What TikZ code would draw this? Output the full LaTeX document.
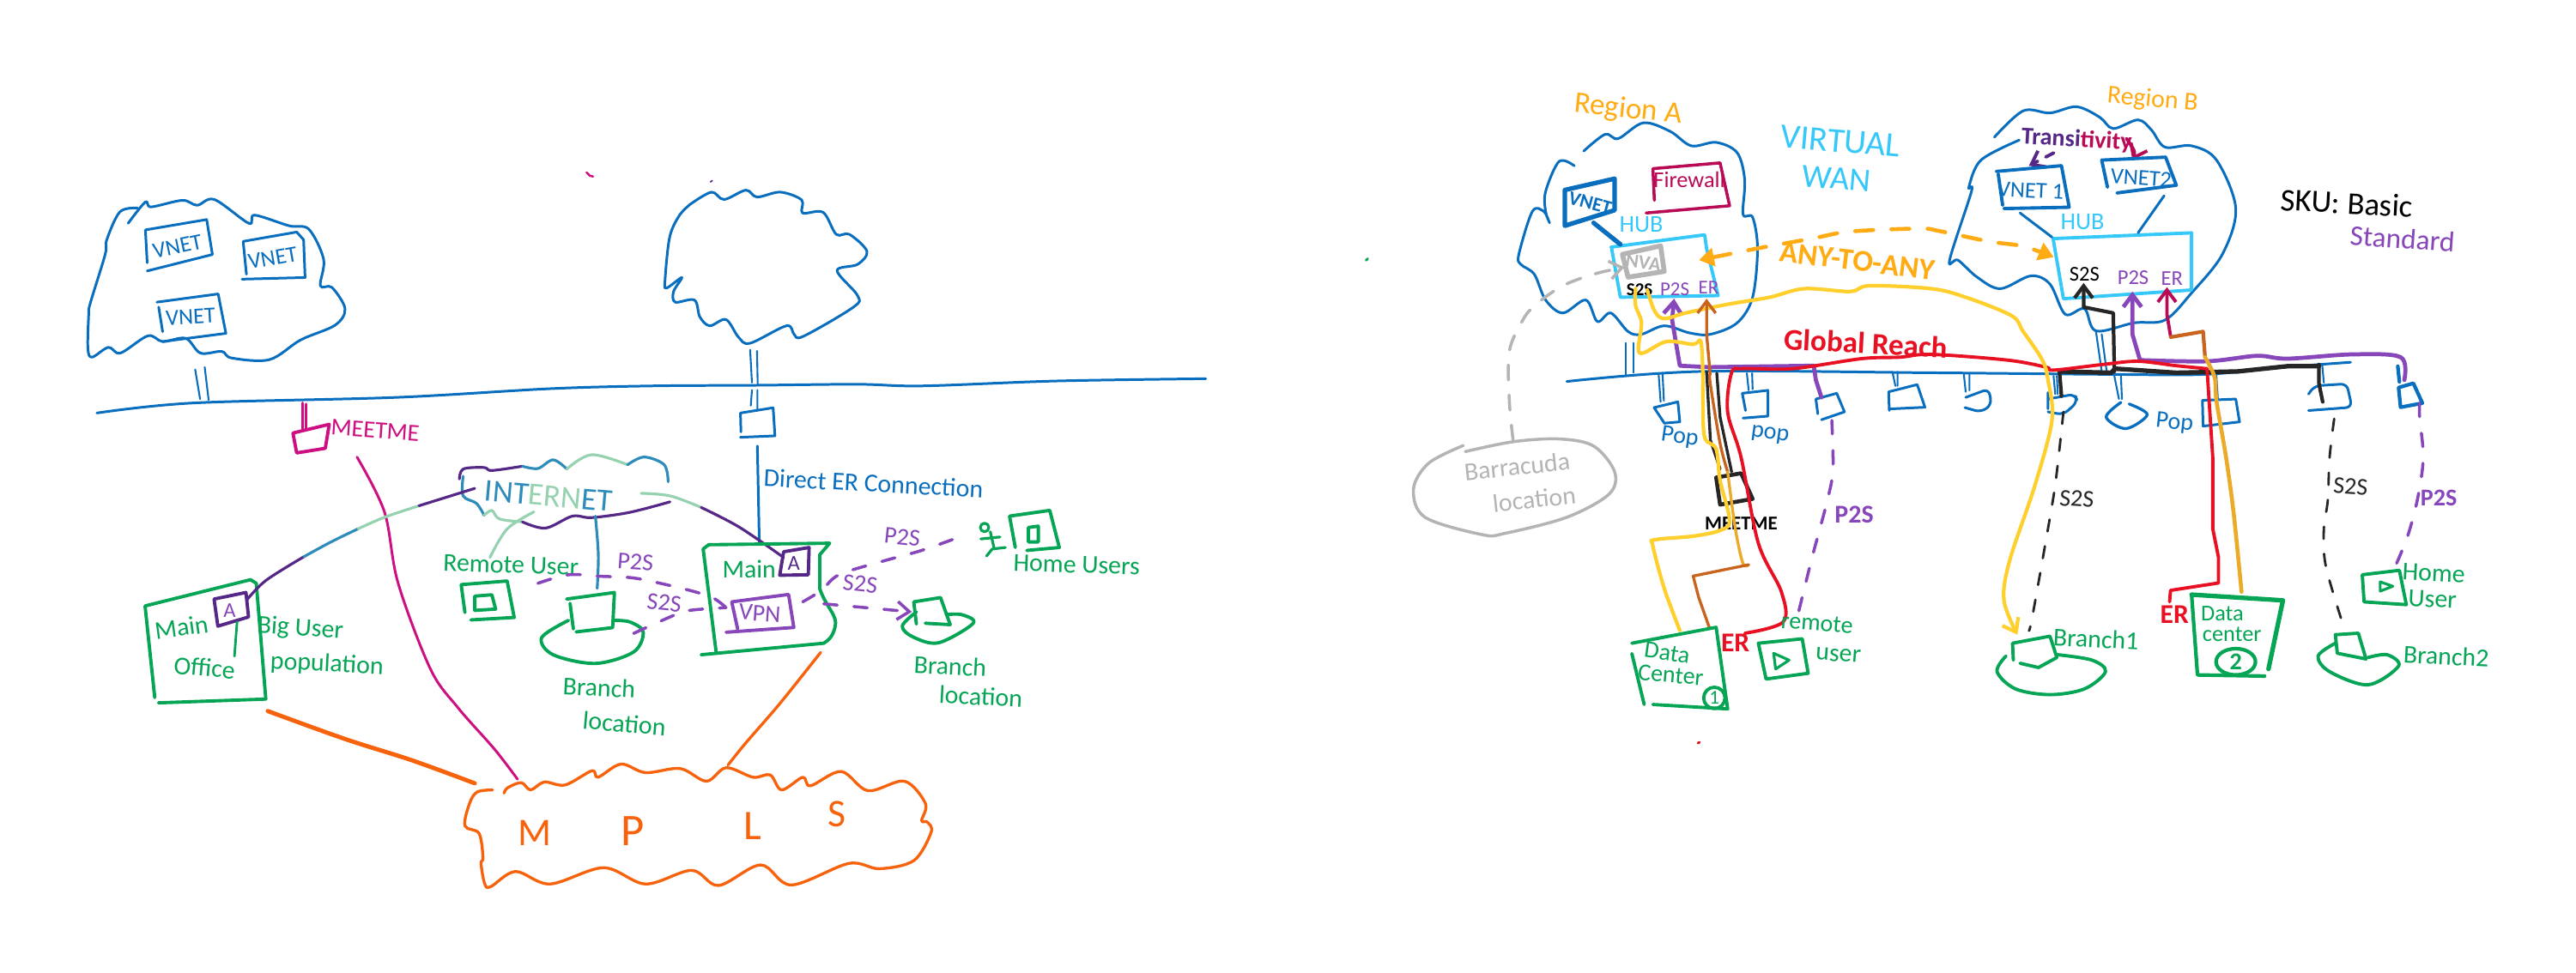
\documentclass[tikz,border=0pt]{standalone}
\usepackage{fontspec}
\setmainfont{Carlito}
\usepackage{xcolor}
\usetikzlibrary{positioning,arrows.meta}
\definecolor{penblue}{RGB}{10,110,190}
\definecolor{pengreen}{RGB}{5,165,85}
\definecolor{penmagenta}{RGB}{205,15,130}
\definecolor{penorange}{RGB}{247,99,12}
\definecolor{penpurple}{RGB}{135,70,185}
\definecolor{pendark}{RGB}{85,40,135}
\definecolor{pencyan}{RGB}{55,200,250}
\definecolor{penamber}{RGB}{255,171,20}
\definecolor{penyellow}{RGB}{255,208,45}
\definecolor{penred}{RGB}{232,17,35}
\definecolor{pengray}{RGB}{180,180,180}
\definecolor{pencrimson}{RGB}{185,10,85}
\definecolor{penbrown}{RGB}{200,100,30}
\definecolor{pengold}{RGB}{235,170,40}
\definecolor{pensea}{RGB}{150,210,175}
\definecolor{penteal}{RGB}{45,140,185}
\tikzset{
  bluepen/.style={draw=penblue, line width=0.85pt},
  stem/.style={draw=penblue, line width=0.6pt},
  greenpen/.style={draw=pengreen, line width=1.1pt},
  inetpen/.style={draw=#1, line width=0.9pt},
  orangepen/.style={draw=penorange, line width=0.95pt},
  magentapen/.style={draw=penmagenta, line width=0.85pt},
  purplepen/.style={draw=penpurple, line width=1.35pt},
  purpledash/.style={draw=penpurple, line width=1pt, dash pattern=on 4.5pt off 5.5pt},
  blackpen/.style={draw=black!85, line width=1.2pt},
  blackdash/.style={draw=black!85, line width=0.8pt, dash pattern=on 4pt off 5pt},
  redpen/.style={draw=penred, line width=1.1pt},
  yellowpen/.style={draw=penyellow, line width=1.2pt},
  brownpen/.style={draw=penbrown, line width=0.95pt},
  label/.style={inner sep=0pt, font=\fontsize{#1}{#1}\selectfont, align=center},
  label/.default=7.5,
  heavy/.style={font=\fontsize{#1}{#1}\bfseries, inner sep=0pt, align=center},
  tip/.style={-{Straight Barb[length=4pt,width=6pt]}},
}
\newcommand{\pen}[2]{\draw[#1] plot[smooth,tension=0.55] coordinates {#2};}
\begin{document}
\begin{tikzpicture}[x=0.01914cm, y=-0.01914cm, line cap=round, line join=round]
\useasboundingbox (0,0) rectangle (1568,592.5);

% left drawing: clouds and backbone
\pen{bluepen}{(78,136) (88.5,123) (92,126) (111,122) (120,125) (130.5,121.5) (151.5,136) (155,131) (176,137.5) (188,139.6) (197,158) (195,174) (202,175) (210,188) (204,198) (183,207) (164,219) (141,218) (135,214) (122,215) (113,206) (99,208) (90,204.5) (73.3,215) (66,211.5) (56,217.5) (53.5,212) (54,191.4) (55,184.5) (64,155) (65,146) (73,129) (83.8,126.7)}
\draw[bluepen] (88.5,140) -- (125.8,133.7) -- (129.3,155) -- (89.6,165) (88.5,140) -- (89.6,160);
\draw[bluepen] (148,147) -- (180.6,141.3) -- (184.8,146) -- (185.7,169) -- (147.3,170) (148,147) -- (150,167);
\draw[bluepen] (95.5,184) -- (132.8,179) -- (137.5,203) -- (99,208) (96.6,187) -- (99,202);
\node[label, text=penblue, rotate=12] (vnetone) at (108,150) {VNET};
\node[label, text=penblue, rotate=10] (vnettwo) at (166,157) {VNET};
\node[label, text=penblue, rotate=3] (vnetthree) at (116,193) {VNET};
\draw[stem] (118.8,225) -- (121.8,243) (124.6,223.6) -- (127,243.6);
\pen{bluepen}{(59,251.5) (117.6,245.4) (241,242) (334.6,236.7) (397,235) (461,234.6) (522,234) (561.5,235) (643,232) (734,230.6)}
\pen{bluepen}{(420,124.5) (433,117) (440.7,121.5) (454,115.8) (460.8,120) (475,117) (488,121.8) (488.5,129.7) (501,129.3) (509,142.7) (517,142.7) (527.7,153) (522,161) (509.5,164.8) (522,180) (519.5,187) (489,204.8) (483.4,203.6) (478.7,198.4) (456.6,209) (449.6,205.4) (441.9,194.6) (432,198.4) (426,193) (422.7,182.7) (411,184) (410,177.5) (415,169) (405.7,175.4) (404.8,170.6) (407.6,144.5) (413.4,131.4) (420,124.5)}
\draw[stem] (456.6,213) -- (457.7,233) (460.8,213.7) -- (461.2,234) (457.7,237.5) -- (457,247) (461,237.5) -- (461,250);
\draw[bluepen] (450.7,251.5) -- (470.6,248.3) -- (471.7,265.4) -- (450.7,266.3) (450.7,251.5) -- (451,263);
\coordinate (erdrop) at (461,271.6);
\coordinate (mainhead) at (462.2,330.8);
\draw[bluepen] (erdrop) -- (mainhead);
\node[label=8.5, text=penblue, rotate=-3] (directer) at (531.7,294.3) {Direct ER Connection};

% meet me box
\draw[magentapen] (184,245.4) -- (184,261) (186.4,246) -- (186.4,262);
\draw[magentapen, line width=1.1pt] (178.3,263.7) -- (200.4,258.4) -- (198,273) -- (180.6,275.8) -- cycle;
\node[label=8, text=penmagenta, rotate=-4] (meetleft) at (228.4,262) {MEETME};
\pen{magentapen}{(217.3,278.3) (234,311.7) (242.3,355) (262,407.4) (278.8,431) (301,456.2) (315,474.5)}

% internet cloud
\pen{inetpen=pendark}{(279.6,291.7) (282,285.6) (294.7,284.7) (299.4,286.5) (318,283.9)}
\pen{inetpen=penteal}{(318,283.9) (327.4,285.3) (336.7,280) (345,285.6)}
\pen{inetpen=pensea}{(345,285.6) (360,276.9) (382,283)}
\pen{inetpen=penteal}{(382,283) (392,278.3) (404.3,283) (406.7,293.4)}
\pen{inetpen=penteal}{(281.9,290) (281.9,302) (290,306.5) (294.7,313.8)}
\pen{inetpen=pensea}{(294.7,313.8) (299.4,310.8) (304,316) (318,317.8)}
\pen{inetpen=pendark}{(318,317.8) (332,321.6) (348.4,314.3) (360,315.2) (383.3,312) (407.8,305.6)}
\node[label=10.5, rotate=-5] (internet) at (334,302) {\textcolor{penteal}{INT}\textcolor{pensea}{ERN}\textcolor{penteal}{ET}};

% main office and links into internet
\draw[greenpen] (88.3,369) -- (152.5,353) -- (156,355.2) -- (161.8,425.7) -- (96.5,428) (88.3,369) -- (94.2,424.8);
\draw[draw=pendark, line width=1.1pt] (130.3,364.8) -- (149.7,360.8) -- (151.3,375.7) -- (132.6,381.3) -- cycle;
\node[label=7, text=penpurple] (aoffice) at (139.7,371.7) {A};
\coordinate (officeA) at (150,365.6);
\coordinate (inetwest) at (289,297.4);
\pen{inetpen=pendark}{(officeA) (161.8,353.5) (185,339)}
\pen{inetpen=penteal}{(185,339) (201.5,330) (218,322)}
\pen{inetpen=pensea}{(218,322) (234,315) (255,308)}
\pen{inetpen=pendark}{(255,308) (inetwest)}
\node[label=8.5, text=pengreen, rotate=8] (mainone) at (110.5,382) {Main};
\node[label=8.5, text=pengreen, rotate=-5] (officelabel) at (124.5,406.5) {Office};
\draw[greenpen, line width=.8pt] (144.3,378.7) -- (142.7,399.6);
\node[label=8.5, text=pengreen, rotate=-4] (biguser) at (182.8,383) {Big User};
\node[label=8.5, text=pengreen, rotate=-3] (popul) at (199,404.8) {population};
\coordinate (inetsouth) at (362.4,314.3);
\coordinate (branchtop) at (363.5,358.3);
\pen{inetpen=penteal}{(inetsouth) (364.2,337.8) (branchtop)}
\coordinate (inetuser) at (325,311.7);
\coordinate (usertop) at (298.2,339.5);
\pen{inetpen=pensea}{(inetuser) (308.7,322.1) (usertop)}
\coordinate (inetright) at (390.3,300.4);
\coordinate (mainA) at (477,339.5);
\pen{inetpen=pensea}{(inetright) (408,302) (426.8,309)}
\pen{inetpen=pendark}{(426.8,309) (450,321) (mainA)}

% remote user and branch
\node[label=8.5, text=pengreen, rotate=-2] (remoteuser) at (311,344) {Remote User};
\draw[greenpen] (280.7,356) -- (308.7,353.8) -- (313,376) -- (286.6,377.5) (280.7,356) -- (283,373);
\draw[greenpen] (289,363) -- (299.4,362.2) -- (301.7,370.9) -- (289,371.7) -- cycle;
\draw[greenpen] (344.9,364.8) -- (374,360.8) -- (372.9,382.2) -- (350.7,384.8) (347,367.4) -- (349,383);
\pen{greenpen}{(346,377.8) (329.7,388.3) (336.7,398.7) (362.4,404) (385.7,397) (391.5,384.8) (383.3,378.7) (372.9,377.8)}
\node[label=8.5, text=pengreen, rotate=-3] (branchone) at (364.7,418.7) {Branch};
\node[label=8.5, text=pengreen, rotate=-5] (locone) at (380,440.6) {location};

% main box with vpn
\draw[greenpen] (428,334.3) -- (431.4,331.7) -- (505,330.8) -- (499,337.8) -- (499,358.6) .. controls (503,370) and (510,375) .. (508.4,381.3) .. controls (507,388) and (504,390) .. (501.4,391.7) -- (426.8,398.7);
\draw[greenpen] (428,334.3) -- (436,397.8);
\draw[draw=pendark, line width=1.1pt] (477,336) -- (492.5,333.4) -- (492,350) -- (474.6,350.3) -- cycle;
\node[label=7, text=pendark] (amain) at (483.2,343) {A};
\node[label=8.5, text=pengreen] (maintwo) at (456,346.5) {Main};
\draw[draw=penpurple, line width=1.1pt] (445.4,366.5) -- (480,362) -- (483.2,382.1) -- (442,385) (445.4,366.5) -- (449,383);
\node[label=8, text=penpurple, rotate=-4] (vpn) at (462.5,373.4) {VPN};
\coordinate (vpnwest) at (442,370);
\pen{purpledash}{(327.4,355.2) (346,350) (364.7,350.9) (383.3,351.7) (396.5,354) (419.8,359.5) (433.8,364) (vpnwest)}
\pen{purpledash}{(385.7,385.7) (409,375.2) (419.8,371.7) (vpnwest)}
\node[label=8, text=penpurple, rotate=-4] (ptsone) at (386.8,342) {P2S};
\node[label=8, text=penpurple, rotate=-6] (stsone) at (404.3,367) {S2S};
\pen{purpledash}{(488.6,366.5) (500,359.5) (510.7,350) (536.4,342) (560.9,335.2) (585.4,326.5)}
\node[label=8, text=penpurple, rotate=-6] (ststwo) at (523.6,355.5) {S2S};
\node[label=8, text=penpurple, rotate=-6] (ptstwo) at (549.2,327) {P2S};
\coordinate (smallbranch) at (555,372.6);
\draw[purpledash, tip] (501.4,367.7) -- (smallbranch);

% home users
\draw[greenpen, line width=.9pt] (599.3,321.2) circle (2.6);
\draw[greenpen, line width=.9pt] (602.8,323.8) -- (605.2,334.3) (597,328.2) -- (608.7,327) (604,334.3) -- (612,333.4) (604,334.3) -- (600.5,338.6);
\draw[greenpen] (614.5,314.3) -- (639,310.8) -- (644.8,333.4) -- (625,335.2) (614.5,314.3) -- (618,333.4);
\draw[greenpen] (626,321.2) -- (632,320.4) -- (632,330) -- (626,330) -- cycle;
\node[label=8.5, text=pengreen, rotate=-2] (homeusers) at (655.3,343.9) {Home Users};
\draw[greenpen] (556.2,366.5) -- (572.5,363.9) -- (578.4,380.4) -- (563.2,379.5) (556.2,366.5) -- (557.8,380);
\pen{greenpen}{(557.8,372.6) (549.2,381.3) (556,388) (571.4,391.4) (592.4,379.5) (585.4,374.3) (576,374.3)}
\node[label=8.5, text=pengreen, rotate=-3] (branchtwo) at (578.4,405.6) {Branch};
\node[label=8.5, text=pengreen, rotate=-3] (loctwo) at (597,424) {location};

% mpls cloud
\pen{orangepen}{(299.8,481) (290.4,482.3) (285.8,489.3) (283,502.9) (291.6,507.5) (294,522.3) (292.8,525.8) (295,538) (298.6,540) (313.8,530.7) (334.8,538.3) (367.4,528.4) (393,538.3) (421,530) (437.4,539.2) (463,526.7) (481.7,538.9) (516.6,525.8) (535.3,529) (556.3,524) (566.8,506.7) (564.4,500.6) (561,499.7) (563.3,489.3) (550.5,475.7) (528.3,481.5) (512,469.8) (493.3,478.5) (488.7,473.3) (475.8,481) (468.8,471.9) (458.4,473.3) (442,467.5) (430,475.7) (414,468) (393,470.5) (378,465.3) (364,473.3) (360.4,469.3) (344,478) (331.3,476.2) (323,481) (317.3,476.6) (309,479.7) (306.8,483)}
\node[label=13, text=penorange] (letterm) at (325.4,507.5) {M};
\node[label=15, text=penorange] (letterp) at (385,506) {P};
\node[label=14, text=penorange] (letterl) at (458.4,503) {L};
\node[label=13, text=penorange] (letters) at (509.6,496) {S};
\coordinate (officefoot) at (163,433);
\coordinate (mplswest) at (289,477);
\pen{orangepen, line width=1.4pt}{(officefoot) (210,450) (250.8,463) (mplswest)}
\coordinate (mainfoot) at (499.5,397.3);
\coordinate (mplsnorth) at (443.2,465.8);
\pen{orangepen}{(mainfoot) (474.7,428.4) (453.7,452.7) (mplsnorth)}
\draw[magentapen, line width=.7pt] (357,105) -- (359,107) -- (361,107.5);
\draw[draw=pendark, line width=.5pt] (432.5,110.8) -- (433.5,110);

% right drawing: region a
\node[label=10, text=penamber, rotate=-6] (regiona) at (991,67) {Region A};
\pen{bluepen}{(964,92) (977,81.8) (985,84.4) (1000.3,74.8) (1016.6,80) (1029.5,88.8) (1044.6,86.7) (1057.4,93) (1062,109.6) (1061,130.5) (1066.8,132.3) (1069.8,151.4) (1066.8,181) (1057.4,196.6) (1041,203.6) (1028.3,202.7) (1013,198.4) (999,203.6) (991,201.9) (980.5,190.6) (972.3,195.8) (965.3,182.7) (951.3,190.6) (940.8,182.7) (933.9,167) (925.7,161) (924.5,154.9) (932.7,128.8) (939.7,128.8) (943.2,135.7) (940.8,128.8) (940.8,116.6) (949,98.3) (958.3,101)}
\draw[draw=penblue, line width=1.5pt] (952.5,115.7) -- (982.8,108.8) -- (982.8,128) -- (952.5,137.5) -- cycle;
\node[heavy=6.5, text=penblue, rotate=-15] (vneta) at (968,123.6) {VNET};
\draw[draw=pencrimson, line width=1pt] (1006.1,102.7) -- (1047,99.2) -- (1052.8,125.3) -- (1002,129.7) (1006.1,102.7) -- (1007,122);
\node[label=7.5, text=pencrimson] (firewall) at (1028.3,109.6) {Firewall};
\node[label=8, text=pencyan] (huba) at (999,136.6) {HUB};
\draw[draw=pencyan, line width=1.1pt] (980.5,150.5) -- (1037.6,143) -- (1038.8,151.4) -- (1045.8,180) -- (986.3,181) -- (981,151.4);
\coordinate (hubanorth) at (986.3,148.8);
\coordinate (vnetasouth) at (970,135.7);
\draw[draw=penblue, line width=1.5pt] (vnetasouth) -- (hubanorth);
\draw[draw=pengray, line width=1.6pt] (987.5,154.9) -- (1010.8,149.7) -- (1013,165.3) -- (991,168.8) -- cycle;
\node[heavy=6.5, text=pengray, rotate=-8] (nva) at (1000.3,160) {NVA};
\node[heavy=6, text=black] (stsa) at (998,176.5) {S2S};
\node[label=6.5, text=penpurple] (ptsa) at (1019.4,176) {P2S};
\node[label=6.5, text=penpurple] (era) at (1040,175) {ER};
\node[label=11.5, text=pencyan, rotate=-5] (virtual) at (1120.4,86) {VIRTUAL};
\node[label=11, text=pencyan, rotate=-5] (wan) at (1118,108.8) {WAN};

% barracuda
\pen{draw=pengray, line width=1pt}{(890.7,271.3) (869.7,282) (860.4,297.7) (867.4,315) (902.4,325.6) (916.4,324.7) (953.7,315) (979.3,301) (982.8,287.3) (970,271.6) (949,267.3) (921,269) (891.9,275)}
\node[label=8.5, text=pengray, rotate=6] (barracuda) at (923.4,284) {Barracuda};
\node[label=8.5, text=pengray, rotate=6] (barloc) at (933.9,304) {location};
\coordinate (nvawest) at (988.7,162.7);
\coordinate (barnorth) at (921,268);
\pen{draw=pengray, line width=1pt, dash pattern=on 5pt off 5pt, tip}{(barnorth) (918.7,243.8) (918.7,214) (926.9,194.9) (935,185.3) (951.3,174) (970,167) (nvawest)}

% backbone, stems and pops
\pen{bluepen}{(953.7,232.3) (1035.3,226.2) (1175.5,227) (1285,228) (1342,228) (1385,224) (1430.8,220.6)}
\draw[stem] (989.8,208.8) -- (989.8,228) (994.5,208.8) -- (994.5,227);
\draw[stem] (1009.6,228) -- (1010.8,244.7) (1012,228) -- (1012.8,244);
\draw[bluepen] (1006.8,248.2) -- (1021.3,244.7) -- (1022.5,256.9) -- (1013.1,257.7) -- cycle;
\node[label=8, text=penblue, rotate=-8] (popone) at (1022.5,266.4) {Pop};
\draw[stem] (1063.3,227.3) -- (1064.4,237.7) (1066.5,227.3) -- (1066.8,237);
\draw[bluepen] (1060.5,239.5) -- (1076.1,237.7) -- (1076.1,253.4) -- (1061,254.6) (1060.5,239.5) -- (1062.5,250);
\node[label=8, text=penblue, rotate=-8] (poptwo) at (1077.3,264.7) {pop};
\draw[bluepen] (1105.3,243) -- (1118,239.5) -- (1122.7,250.8) -- (1108.7,255.6) (1105.3,243) -- (1106.5,252);
\draw[stem] (1151.9,226.4) -- (1153.7,235) (1155,226.4) -- (1155,235);
\draw[bluepen] (1149.6,238.6) -- (1167,234.2) -- (1171.7,248) -- (1150.7,249) (1149.6,238.6) -- (1150,250);
\draw[stem] (1195.3,227.3) -- (1196.5,238.6) (1198.8,228) -- (1198.8,237.7);
\draw[bluepen, rounded corners=2pt] (1196.5,242) -- (1210.5,236.8) -- (1212.3,246.4) -- (1205.8,251) -- (1196,248.2);
\draw[stem] (1250,229) -- (1251,240) (1252,229) -- (1252.5,240);
\draw[bluepen, rounded corners=2pt] (1246.6,243) -- (1263,240) -- (1264.6,244.7) -- (1256,252.5) -- (1246.6,250.8) (1246.6,239) -- (1246.6,249);
\draw[stem] (1287,229) -- (1289.8,243) (1291,229) -- (1291.6,243);
\pen{bluepen, line width=.95pt}{(1291,245) (1282,254) (1294,261) (1307,252.5) (1296,246)}
\node[label=8, text=penblue, rotate=-6] (popthree) at (1323.6,257.7) {Pop};
\draw[stem] (1349,227.3) -- (1350,243);
\draw[bluepen] (1340.6,243.8) -- (1360.9,243) -- (1363.2,256.9) -- (1341,259.5) -- cycle;
\draw[stem] (1413.5,222) -- (1414.5,233);
\draw[bluepen, rounded corners=2pt] (1405.2,250) -- (1431.6,248) -- (1428.5,233.7) -- (1408.7,235) -- (1405.2,240);
\draw[draw=penblue, line width=1.2pt] (1459.5,223) -- (1460.5,232.5);
\draw[draw=penblue, line width=1.2pt] (1460,236) -- (1469,233.4) -- (1474.5,245.5) -- (1461.2,248) -- cycle;

% region b
\node[label=8.5, text=penamber, rotate=-5] (regionb) at (1310.3,61) {Region B};
\pen{bluepen}{(1214,83.5) (1231.5,67.5) (1247.8,68.8) (1264,65) (1278.1,71.4) (1286.3,78.3) (1301.4,73) (1309.6,79.2) (1317.8,89.6) (1334,88.8) (1349.2,97.5) (1360.9,127) (1352.7,154.9) (1334,178.4) (1317.8,194.9) (1299,196.6) (1275.8,201.5) (1268.8,188) (1257.1,191.4) (1247.8,173) (1236.1,168) (1217.5,175.8) (1203.5,168.8) (1191.8,158.4) (1186.7,158.4) (1200,116.6) (1198.4,114) (1205.8,97.5) (1229.1,85.3)}
\draw[stem] (1275.8,201.9) -- (1279.3,226.2) (1279.3,203.6) -- (1282.3,226.2);
\node[heavy=8, rotate=-3] (transit) at (1264,85.3) {\textcolor{pendark}{Transi}\textcolor{pencrimson}{tivity}};
\coordinate (vnetbonetop) at (1235,100.9);
\coordinate (vnetbtwotop) at (1298,97.5);
\draw[draw=pendark, line width=1.1pt, dashed, tip] (1250.1,93.1) -- (vnetbonetop);
\pen{draw=pencrimson, line width=1.1pt, tip}{(1294.4,84.4) (1299.1,92.2) (vnetbtwotop)}
\draw[bluepen, line width=1.1pt] (1215.1,104.4) -- (1254.8,100.9) -- (1259.5,126.2) -- (1219.8,127) (1216.3,106) -- (1219,125);
\node[label=7.5, text=penblue, rotate=-3] (vnetbone) at (1236,116) {VNET 1};
\draw[bluepen, line width=1.1pt] (1288.6,117.5) -- (1324.7,112.8) -- (1318.2,95.7) -- (1279.3,97.5) -- (1282.8,114);
\node[label=7.5, text=penblue, rotate=-4] (vnetbtwo) at (1303.3,108.5) {VNET2};
\node[label=8, text=pencyan] (hubb) at (1267.6,134.9) {HUB};
\draw[draw=pencyan, line width=1.1pt] (1249.7,145.3) -- (1334,141.8) -- (1334,176.6) -- (1256,181.9) -- cycle;
\coordinate (hubbwest) at (1249,144.4);
\coordinate (hubbnorth) at (1301.4,141.8);
\draw[bluepen] (1229.6,129.7) -- (hubbwest);
\draw[bluepen] (1317.3,119.2) -- (hubbnorth);
\node[label=7, text=black] (stsb) at (1268.8,167) {S2S};
\node[label=7, text=penpurple] (ptsb) at (1298.4,169) {P2S};
\node[label=7, text=penpurple] (erb) at (1322,169.5) {ER};
\node[label=10.5, text=black, rotate=-3] (sku) at (1428.5,123.6) {SKU: Basic};
\node[label=9.5, text=penpurple, rotate=-4] (standard) at (1462.3,145.3) {Standard};

% any to any
\coordinate (hubaeast) at (1034.1,158.4);
\coordinate (hubbwestin) at (1250.1,156.6);
\pen{draw=penamber, line width=1.3pt, dash pattern=on 6pt off 6pt, {Triangle[length=5pt,width=6pt]}-{Triangle[length=5pt,width=6pt]}}{(hubaeast) (1051.6,154.9) (1073.8,150.5) (1102.9,145.3) (1126.2,141) (1168.2,139.2) (1180,140.6) (1210.5,147) (1231.5,150) (hubbwestin)}
\node[heavy=10, text=penamber, rotate=-7] (anytoany) at (1130.5,159) {ANY-TO-ANY};
\node[heavy=10, text=penred, rotate=-3] (globalreach) at (1135.6,209) {Global Reach};

% black routes
\coordinate (hubbsts) at (1268.3,172.3);
\draw[blackpen, line width=1.5pt] (1253.6,226.2) -- (1285,227) -- (1287.4,224.5) -- (1324.7,227) -- (1362,226.2) -- (1392.4,223) -- (1411.5,223);
\draw[blackpen, tip] (1287,226.2) -- (1286.3,190.6) -- (1268.3,187) -- (hubbsts);
\draw[blackpen] (1253.6,226.4) -- (1254.8,241.2);
\draw[blackpen] (1411.5,222) -- (1411.5,233.4) -- (1413.8,244.7);
\draw[blackpen, line width=.95pt] (1038.8,226.4) -- (1041.1,268) -- (1047,285.6) (1045,227.3) -- (1047,254) -- (1054,287.3);
\draw[blackpen, line width=1.3pt] (1044.6,290.8) -- (1059.8,288.2) -- (1066.8,303.8) -- (1047,307.3) -- cycle;
\node[heavy=6.5, text=black] (meetright) at (1059.8,318.6) {MEETME};
\pen{blackdash}{(1256,250.8) (1252,287.3) (1249,308) (1237.3,374.3) (1235,383.9)}
\node[label=8, text=black!85, rotate=-4] (stsc) at (1264.1,303.8) {S2S};
\pen{blackdash}{(1420.8,255) (1418,278.6) (1416.9,304.7) (1414.5,322) (1415.7,344.7) (1426.2,380.4)}
\node[label=8, text=black!85, rotate=-4] (stsd) at (1430.8,296) {S2S};

% purple routes
\coordinate (hubapts) at (1019,181.9);
\coordinate (popthreetop) at (1108.7,242);
\draw[purplepen, tip] (popthreetop) -- (1105.3,231.4) -- (1104,222.7) -- (1040,223.6) -- (1022.5,222.7) -- (1017.8,194.9) -- (hubapts);
\coordinate (hubbpts) at (1298,177.5);
\pen{purplepen}{(1463.5,231.4) (1461.2,217.5) (1432,215.8) (1392.4,218.4) (1373.7,216.7) (1343.4,220) (1302.6,219.3)}
\draw[purplepen, tip] (1302.6,219.3) -- (1298,203.6) -- (hubbpts);
\pen{purpledash}{(1115,256) (1115.7,285.6) (1112.3,304.7) (1103,339.5) (1094.8,372.6)}
\node[heavy=8.5, text=penpurple] (ptsc) at (1128.6,313.4) {P2S};
\pen{purpledash}{(1472.8,245.5) (1472.8,254.2) (1475,278.6) (1471.7,303) (1465.8,325.6) (1458.8,343)}
\node[heavy=8, text=penpurple] (ptsd) at (1484.5,303) {P2S};

% red routes
\pen{redpen}{(1062.1,385.6) (1085.4,378.7) (1084.3,360.4) (1070.3,330.8) (1059.8,278.6) (1051.6,250.8) (1054,227) (1060.9,224.5) (1091.3,224.5) (1133.2,218.4) (1156.6,217.5) (1175.5,215.8) (1222,219.3) (1245.5,223.6) (1250,225.4) (1280.4,221.9) (1301.4,220) (1324.7,222.7) (1343.4,224.5)}
\draw[redpen] (1343.4,224.5) -- (1346.9,278.6) -- (1346.9,322) -- (1350.4,339.5) -- (1350.4,355) -- (1321.2,359.5) -- (1320.6,366.5);
\node[heavy=9, text=penred] (ertwo) at (1323.6,374) {ER};
\node[heavy=9, text=penred] (erone) at (1056.3,391.7) {ER};

% yellow routes
\pen{yellowpen}{(995.6,175.8) (995.6,186.2) (999.2,196.6) (998,215) (1014.3,208) (1030.6,209.7) (1035.3,208) (1036.5,228) (1036.5,243.8) (1037.6,266.4) (1044.6,273.4) (1047,292.5) (1052.8,316.9) (1047,323) (1030.6,326.5) (1007.3,328.7) (1006.1,332.5) (1013.1,358.6) (1022.5,383.9)}
\coordinate (branchonetop) at (1228,386.5);
\pen{yellowpen, tip}{(1002.6,176.6) (1007.3,189.7) (1013.1,194) (1026,190.6) (1051.6,185.3) (1077.3,181) (1098.2,175.8) (1126.2,177.5) (1138,174) (1175.5,175.8) (1196.5,181) (1224.5,192.3) (1231.5,201.9) (1243,219) (1246.6,231.4) (1249,256) (1238.5,296) (1223.3,341.2) (1219.8,365.6) (branchonetop)}

% brown and gold routes
\coordinate (hubaer) at (1038.8,181.9);
\draw[brownpen, tip] (1041,228) -- (1038.8,203.6) -- (hubaer);
\pen{brownpen}{(1041,228) (1041,233.4) (1047,270) (1051.6,287.3)}
\pen{brownpen, draw=pengold}{(1051.6,287.3) (1056.3,322) (1060.9,343) (1064.4,343.9)}
\draw[brownpen] (1064.4,343.9) -- (1030.6,350.8) -- (1034,363.9) -- (1040.4,382);
\coordinate (hubber) at (1319,174.9);
\draw[draw=pencrimson, line width=1.1pt, tip] (1321.3,205.3) -- (1319,191.4) -- (hubber);
\draw[brownpen, line width=1.2pt] (1321.3,205.3) -- (1341,201.9) -- (1342.2,217.5);
\pen{brownpen, draw=pengold, line width=1.3pt}{(1342.2,217.5) (1348,229.7) (1349.2,244.5) (1355,278.6) (1359.7,313.4) (1364.4,360.4)}

% sites under the backbone
\draw[greenpen] (993.3,391.7) -- (1044.6,382) -- (1051.6,431.7) -- (1006.1,429) (993.3,398) -- (1000.8,429);
\node[label=8, text=pengreen, rotate=-8] (dataone) at (1014.8,397.5) {Data};
\node[label=8, text=pengreen, rotate=-5] (centerone) at (1017,411) {Center};
\draw[greenpen] (1043.5,425) circle (6.5);
\node[label=6.5, text=pengreen] (oneone) at (1043.5,425) {1};
\draw[greenpen] (1070.3,391.7) -- (1097,389) -- (1100.6,410) -- (1075,413.5) -- cycle;
\draw[greenpen, line width=.9pt] (1079.6,397.8) -- (1089,402) -- (1080.8,407.4) -- cycle;
\node[label=8, text=pengreen, rotate=-4] (remoteright) at (1106,379.5) {remote};
\node[label=8.5, text=pengreen, rotate=-4] (userright) at (1119,399) {user};
\draw[greenpen] (1225,391.7) -- (1247.8,387.4) -- (1252,400.4) -- (1240.8,406.5) -- (1229.6,403.9) (1225,391.7) -- (1225.5,402);
\pen{greenpen}{(1221,399.5) (1215.6,409) (1226.8,419.5) (1247.8,423) (1268.8,419.5) (1281.6,409) (1273.4,402) (1252.5,398.7)}
\node[label=8.5, text=pengreen, rotate=-3] (branchright) at (1275.8,389) {Branch1};
\draw[greenpen, line width=1.5pt] (1334,362.1) -- (1389.6,365.6) -- (1380.8,407.4);
\draw[greenpen, line width=1.2pt] (1334,362.1) -- (1337.6,411) -- (1378.4,411.7);
\node[label=7.5, text=pengreen] (datatwo) at (1352.7,373.5) {Data};
\node[label=7.5, text=pengreen] (centertwo) at (1358.6,386.5) {center};
\draw[greenpen, line width=1.2pt] (1360.9,403) ellipse (12 and 8);
\node[heavy=8, text=pengreen] (twotwo) at (1360.9,403) {2};
\draw[greenpen] (1437.9,350) -- (1460.5,347.3) -- (1464.7,368.2) -- (1439,366.5) -- cycle;
\draw[greenpen, line width=.9pt] (1448.8,354.3) -- (1456.5,357) -- (1448.8,360) -- cycle;
\node[label=8.5, text=pengreen, rotate=-3] (homeright) at (1481,357) {Home\\User};
\draw[greenpen] (1421.5,386.5) -- (1435.5,385.6) -- (1440.2,401.3) -- (1422.7,397.8) -- cycle;
\pen{greenpen}{(1421.5,391.7) (1411,399.5) (1418,409) (1441.4,417) (1460,405.6) (1453,398.7) (1441.4,400.4)}
\node[label=8.5, text=pengreen, rotate=-3] (branchfar) at (1489,399.5) {Branch2};
\draw[draw=pengreen, line width=.8pt] (831.5,158.5) -- (832.5,157.5);
\draw[draw=penred, line width=.8pt] (1033.5,452.5) -- (1034.5,452);
\end{tikzpicture}
\end{document}
